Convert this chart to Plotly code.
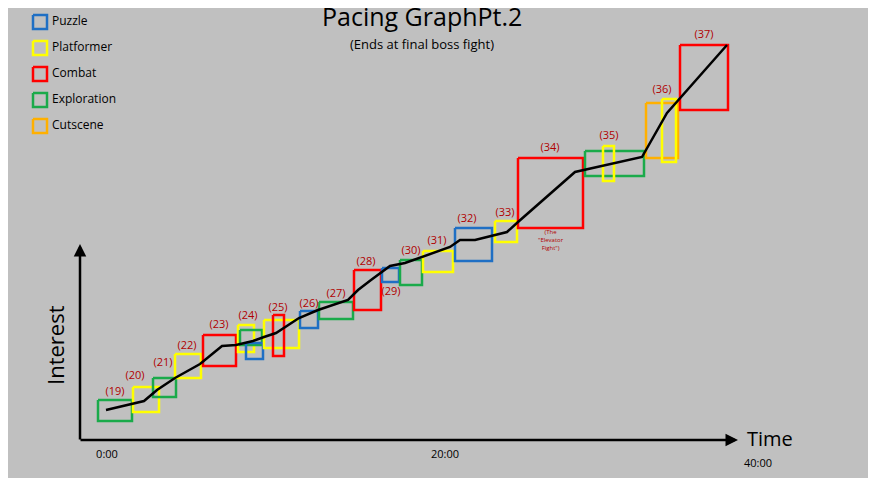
import plotly.graph_objects as go

# colour codes
COLORS = {"P": "#1f6fc4", "Y": "#ffff00", "C": "#ff0000", "E": "#1aaa4a", "S": "#ffb000"}

# segments: label, colour code, x0, x1, y0, y1 (picture coordinates)
box_kind = ["E", "Y", "E", "Y", "C", "Y", "E", "P", "Y", "C", "P", "E", "C", "P", "E", "Y",
            "P", "Y", "C", "E", "Y", "S", "Y", "C"]
box_x0 = [98, 133, 153, 175, 203, 238, 240, 246, 264, 273, 300, 319, 354, 382, 400, 423,
          455, 495, 518, 585, 603, 646, 662, 680]
box_x1 = [132, 159, 176, 201, 236, 254, 262, 263, 299, 284, 318, 353, 381, 399, 422, 453,
          492, 517, 583, 644, 614, 678, 676, 728]
box_y0 = [400, 387, 378, 354, 335, 325, 330, 343, 320, 315, 311, 302, 270, 268, 260, 251,
          228, 221, 158, 151, 146, 103, 99, 45]
box_y1 = [421, 412, 397, 378, 366, 352, 345, 359, 348, 356, 328, 319, 310, 282, 285, 272,
          261, 242, 228, 176, 181, 158, 162, 110]

seg_labels = ["(19)", "(20)", "(21)", "(22)", "(23)", "(24)", "(25)", "(26)", "(27)", "(28)",
              "(29)", "(30)", "(31)", "(32)", "(33)", "(34)", "(35)", "(36)", "(37)"]
seg_lx = [115, 135, 163, 187, 219, 248, 278, 309, 336, 366, 391, 411, 437, 467, 505, 550, 609, 662, 704]
seg_ly = [392, 376, 363, 346, 325, 316, 308, 304, 294, 262, 292, 251, 241, 219, 213, 148, 136, 90, 35]

interest_x = [106, 127, 144, 157, 175, 200, 222, 236, 253, 264, 276, 299, 318, 348, 358, 371,
              390, 405, 430, 450, 460, 475, 507, 518, 575, 642, 667, 727]
interest_y = [410, 405, 401, 390, 378, 364, 346, 345, 341, 337, 333, 318, 310, 300, 290, 280,
              266, 263, 254, 247, 240, 240, 232, 222, 172, 157, 113, 45]

legend_names = ["Puzzle", "Platformer", "Combat", "Exploration", "Cutscene"]
legend_kind = ["P", "Y", "C", "E", "S"]
legend_y = [22, 48, 74, 100, 126]

time_ticks = ["0:00", "20:00", "40:00"]
time_tx = [107, 445, 758]
time_ty = [455, 455, 464]

fig = go.Figure()

for k, a, b, c, d in zip(box_kind, box_x0, box_x1, box_y0, box_y1):
    fig.add_trace(go.Scatter(x=[a, b, b, a, a], y=[c, c, d, d, c], mode="lines",
                             line=dict(color=COLORS[k], width=2.5), showlegend=False,
                             hoverinfo="skip"))

fig.add_trace(go.Scatter(x=interest_x, y=interest_y, mode="lines",
                         line=dict(color="black", width=2.5), showlegend=False))

fig.add_trace(go.Scatter(x=seg_lx, y=seg_ly, mode="text", text=seg_labels,
                         textfont=dict(color="#b00000", size=11, family="Open Sans"),
                         showlegend=False))

for name, k, y in zip(legend_names, legend_kind, legend_y):
    fig.add_trace(go.Scatter(x=[33, 47, 47, 33, 33], y=[y - 7, y - 7, y + 7, y + 7, y - 7],
                             mode="lines", line=dict(color=COLORS[k], width=2.5),
                             showlegend=False))
fig.add_trace(go.Scatter(x=[52] * 5, y=legend_y, mode="text", text=legend_names,
                         textposition="middle right",
                         textfont=dict(color="black", size=12, family="Open Sans"),
                         showlegend=False))

fig.add_trace(go.Scatter(x=time_tx, y=time_ty, mode="text", text=time_ticks,
                         textfont=dict(color="black", size=11, family="Open Sans"),
                         showlegend=False))

# axes with arrows
fig.add_annotation(x=80, y=244, ax=80, ay=441, xref="x", yref="y", axref="x", ayref="y",
                   showarrow=True, arrowhead=2, arrowsize=1, arrowwidth=2.5, arrowcolor="black", text="")
fig.add_annotation(x=738, y=440, ax=79, ay=440, xref="x", yref="y", axref="x", ayref="y",
                   showarrow=True, arrowhead=2, arrowsize=1, arrowwidth=2.5, arrowcolor="black", text="")

fig.add_annotation(x=770, y=438, text="Time", showarrow=False,
                   font=dict(size=20, color="black", family="Open Sans"))
fig.add_annotation(x=55, y=345, text="Interest", showarrow=False, textangle=-90,
                   font=dict(size=22, color="black", family="Open Sans"))
fig.add_annotation(x=422, y=16, text="Pacing GraphPt.2", showarrow=False,
                   font=dict(size=25, color="black", family="Open Sans"))
fig.add_annotation(x=422, y=44, text="(Ends at final boss fight)", showarrow=False,
                   font=dict(size=13, color="black", family="Open Sans"))
fig.add_annotation(x=551, y=240, text="(The<br>\"Elevator<br>Fight\")", showarrow=False,
                   font=dict(size=6, color="#b00000", family="Open Sans"))

# page has an 8px body margin, so the plot area is mapped to page pixels 8..868 / 8..478
fig.update_layout(
    width=860, height=470,
    margin=dict(l=0, r=0, t=0, b=0),
    paper_bgcolor="#c0c0c0", plot_bgcolor="#c0c0c0",
    xaxis=dict(range=[8, 868], visible=False, fixedrange=True),
    yaxis=dict(range=[478, 8], visible=False, fixedrange=True),
)

fig.write_html("out.html")
